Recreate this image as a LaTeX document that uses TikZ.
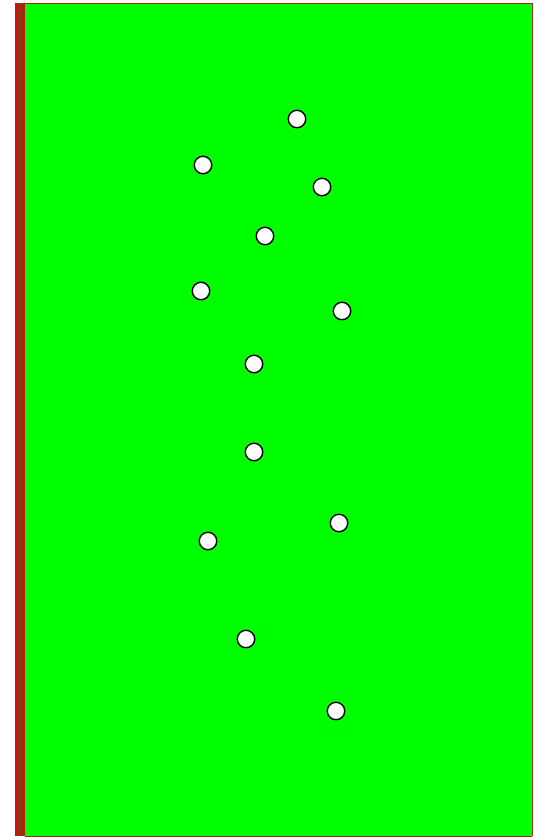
\documentclass[tikz,border=0pt]{standalone}
\usepackage{tikz}
\definecolor{felt}{HTML}{00FF00}
\definecolor{rail}{HTML}{9A3010}
\definecolor{railedge}{HTML}{CC1010}

\begin{document}
\begin{tikzpicture}[x=1pt, y=-1pt,
        hole/.style={circle, draw=black, fill=white, line width=1.4pt,
                     minimum width=17.5pt, minimum height=17.5pt, inner sep=0pt}]
        \useasboundingbox (0,0) rectangle (533,838);
        % table surface
        \fill[felt] (25,3) rectangle (532,836);
        \draw[railedge, line width=1pt] (25,3) -- (532,3);
        \draw[railedge, line width=1pt] (25,836) -- (532,836);
        \draw[rail, line width=1pt] (532,3) -- (532,836);
        % side rail
        \fill[rail] (15.5,3) rectangle (24.5,836);
        \draw[railedge, line width=1.5pt] (16,3) -- (16,836);
        \draw[railedge, line width=1.5pt] (24,3) -- (24,836);
        % holes
        \foreach \i/\x/\y in {1/297/119, 2/203/165, 3/322/187, 4/265/236,
                              5/201/291, 6/342/311, 7/254/364, 8/254/452,
                              9/339/523, 10/208/541, 11/246/639, 12/336/711}
          \node[hole] (hole\i) at (\x,\y) {};
      \end{tikzpicture}
\end{document}
